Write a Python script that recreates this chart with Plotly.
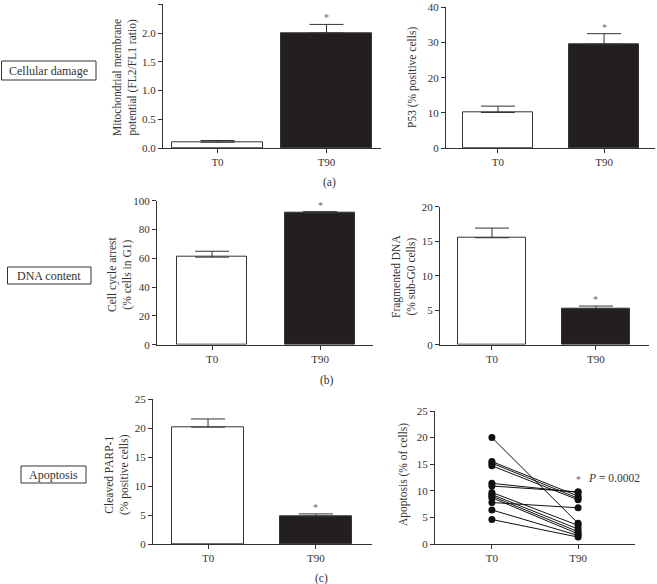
import plotly.graph_objects as go

W, H = 657, 584

categories = ["T0", "T90"]

mito_mean = [0.10, 2.00]
mito_sem = [0.03, 0.15]

p53_mean = [10.1, 29.5]
p53_sem = [1.8, 3.0]

cellcycle_mean = [60.8, 91.5]
cellcycle_sem = [4.1, 0.9]

fragdna_mean = [15.5, 5.2]
fragdna_sem = [1.4, 0.4]

parp_mean = [20.2, 4.8]
parp_sem = [1.4, 0.4]

apoptosis_t0 = [20.0, 15.5, 15.2, 14.7, 11.4, 10.9, 9.7, 9.3, 9.0, 8.7, 7.8, 6.4, 4.6]
apoptosis_t90 = [3.9, 9.0, 8.6, 8.3, 9.7, 9.8, 3.5, 2.8, 2.3, 1.9, 6.8, 1.6, 1.3]

p_value_text = "<i>P</i> = 0.0002"

SERIF = "Liberation Serif"
AX = "#333333"
DARK = "#231f20"

def xd(a, b):
    return [a / W, b / W]

def yd(top, bottom):
    return [1 - bottom / H, 1 - top / H]

fig = go.Figure()

bar_panels = [
    # mean, sem, axis id, bar width
    (mito_mean, mito_sem, "", 0.83),
    (p53_mean, p53_sem, "2", 0.66),
    (cellcycle_mean, cellcycle_sem, "3", 0.65),
    (fragdna_mean, fragdna_sem, "4", 0.66),
    (parp_mean, parp_sem, "5", 0.67),
]

for mean, sem, ax, bw in bar_panels:
    fig.add_trace(go.Bar(
        x=categories, y=mean, width=bw,
        marker=dict(color=["white", DARK], line=dict(color=AX, width=1)),
        error_y=dict(type="data", array=sem, arrayminus=[0, 0], symmetric=False,
                     color=AX, thickness=1, width=17),
        xaxis="x" + ax, yaxis="y" + ax, showlegend=False,
    ))
    top = mean[1] + sem[1]
    fig.add_annotation(x=categories[1], y=top, xref="x" + ax, yref="y" + ax,
                       text="*", showarrow=False, yanchor="bottom", yshift=-1,
                       font=dict(family=SERIF, size=10, color="#666666"))

for a, b in zip(apoptosis_t0, apoptosis_t90):
    fig.add_trace(go.Scatter(
        x=categories, y=[a, b], mode="lines+markers",
        line=dict(color="#111111", width=1),
        marker=dict(color="#111111", size=7),
        xaxis="x6", yaxis="y6", showlegend=False,
    ))

fig.add_annotation(x=categories[1], y=12.2, xref="x6", yref="y6", text="*",
                   showarrow=False, xanchor="center", yanchor="middle",
                   font=dict(family=SERIF, size=10, color="#666666"))
fig.add_annotation(x=categories[1], y=12.5, xref="x6", yref="y6",
                   text=p_value_text, showarrow=False, xanchor="left",
                   yanchor="middle", xshift=8,
                   font=dict(family=SERIF, size=11.5, color=AX))

tickfont = dict(family=SERIF, size=11, color=AX)

def xaxis_cfg(dom, anchor, rng):
    return dict(domain=dom, anchor=anchor, range=rng, showline=True, linecolor=AX,
                linewidth=1, ticks="outside", ticklen=4, tickcolor=AX, tickfont=tickfont,
                showgrid=False, zeroline=False, fixedrange=True, automargin=False)

def yaxis_cfg(dom, anchor, rng, dtick, fmt=None):
    d = dict(domain=dom, anchor=anchor, range=rng, showline=True, linecolor=AX,
             linewidth=1, ticks="outside", ticklen=4, tickcolor=AX, tickfont=tickfont,
             showgrid=False, zeroline=False, dtick=dtick, tick0=0, fixedrange=True,
             automargin=False)
    if fmt:
        d["tickformat"] = fmt
    return d

fig.update_layout(
    width=W, height=H, margin=dict(l=0, r=0, t=0, b=0, autoexpand=False),
    paper_bgcolor="white", plot_bgcolor="white", bargap=0,
    xaxis=xaxis_cfg(xd(163, 381), "y", [-0.5, 1.5]),
    yaxis=yaxis_cfg(yd(4.3, 148), "x", [0, 2.5], 0.5, ".1f"),
    xaxis2=xaxis_cfg(xd(446, 655), "y2", [-0.49, 1.48]),
    yaxis2=yaxis_cfg(yd(7.3, 148), "x2", [0, 40], 10),
    xaxis3=xaxis_cfg(xd(157, 373), "y3", [-0.51, 1.49]),
    yaxis3=yaxis_cfg(yd(200.7, 344.7), "x3", [0, 100], 20),
    xaxis4=xaxis_cfg(xd(440, 649), "y4", [-0.5, 1.51]),
    yaxis4=yaxis_cfg(yd(206.7, 344.7), "x4", [0, 20], 5),
    xaxis5=xaxis_cfg(xd(153, 372), "y5", [-0.51, 1.52]),
    yaxis5=yaxis_cfg(yd(399.3, 544), "x5", [0, 25], 5),
    xaxis6=xaxis_cfg(xd(435, 635), "y6", [-0.66, 1.66]),
    yaxis6=yaxis_cfg(yd(411, 544), "x6", [0, 25], 5),
)

def paper_ann(x, y, text, size=11, angle=0, xanchor="center"):
    fig.add_annotation(x=x / W, y=1 - y / H, xref="paper", yref="paper", text=text,
                       showarrow=False, textangle=angle, xanchor=xanchor, yanchor="middle",
                       font=dict(family=SERIF, size=size, color=AX))

# y-axis titles
paper_ann(125, 78, "Mitochondrial membrane<br>potential (FL2/FL1 ratio)", 11.5, -90)
paper_ann(413, 78, "P53 (% positive cells)", 11.5, -90)
paper_ann(120, 274, "Cell cycle arrest<br>(% cells in G1)", 11.5, -90)
paper_ann(404, 277, "Fragmented DNA<br>(% sub-G0 cells)", 11.5, -90)
paper_ann(117, 475, "Cleaved PARP-1<br>(% positive cells)", 11.5, -90)
paper_ann(403, 475, "Apoptosis (% of cells)", 11.5, -90)

# panel letters
paper_ann(329, 182, "(a)", 11.5)
paper_ann(327, 380, "(b)", 11.5)
paper_ann(321, 578, "(c)", 11.5)

# group boxes
boxes = [
    (1.5, 61, 96, 80, "Cellular damage"),
    (7.5, 267, 91, 284, "DNA content"),
    (21, 466, 86, 483, "Apoptosis"),
]
for x0, y0, x1, y1, label in boxes:
    fig.add_shape(type="rect", xref="paper", yref="paper",
                  x0=x0 / W, x1=x1 / W, y0=1 - y1 / H, y1=1 - y0 / H,
                  line=dict(color=AX, width=1), fillcolor="white")
    paper_ann((x0 + x1) / 2, (y0 + y1) / 2, label, 12)

fig.write_html("out.html", config={"displayModeBar": False},
               post_script="document.body.style.margin='0';document.body.style.overflow='hidden';")
